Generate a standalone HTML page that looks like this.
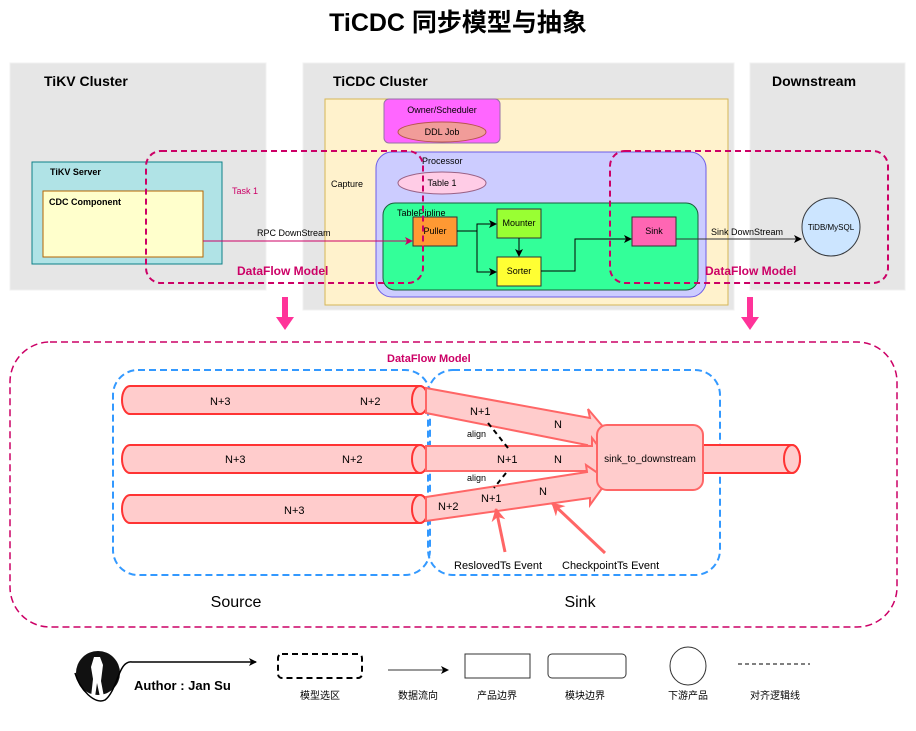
<!DOCTYPE html>
<html><head><meta charset="utf-8"><style>
html,body{margin:0;padding:0;background:#fff;}
svg{display:block;font-family:"Liberation Sans","Noto Sans CJK SC",sans-serif;}
</style></head><body>
<svg width="916" height="731" viewBox="0 0 916 731" xmlns="http://www.w3.org/2000/svg">
<defs>
<marker id="ab" markerWidth="8" markerHeight="8" refX="7" refY="4" orient="auto" markerUnits="userSpaceOnUse"><path d="M0,0 L8,4 L0,8 L2,4z" fill="#000"/></marker>
<marker id="am" markerWidth="8" markerHeight="8" refX="7" refY="4" orient="auto" markerUnits="userSpaceOnUse"><path d="M0,0 L8,4 L0,8 L2,4z" fill="#cc0066"/></marker>
<marker id="ar" markerWidth="14" markerHeight="14" refX="12" refY="7" orient="auto" markerUnits="userSpaceOnUse"><path d="M0,0 L13,7 L0,14 L4,7z" fill="#ff6666"/></marker>
</defs>
<text x="458" y="31" text-anchor="middle" font-size="25" font-weight="bold">TiCDC 同步模型与抽象</text>

<rect x="10" y="63" width="256" height="227" fill="#e6e6e6" stroke="#f0f0f0"/>
<rect x="303" y="63" width="431" height="247" fill="#e6e6e6" stroke="#f0f0f0"/>
<rect x="750" y="63" width="155" height="227" fill="#e6e6e6" stroke="#f0f0f0"/>
<text x="44" y="86" font-size="14" font-weight="bold">TiKV Cluster</text>
<text x="333" y="86" font-size="14" font-weight="bold">TiCDC Cluster</text>
<text x="772" y="86" font-size="14" font-weight="bold">Downstream</text>

<rect x="325" y="99" width="403" height="206" fill="#fff2cc" stroke="#d6b656"/>
<text x="331" y="187" font-size="9">Capture</text>
<rect x="384" y="99" width="116" height="44" rx="5" fill="#ff66ff" stroke="#9673a6"/>
<text x="442" y="113" font-size="9" text-anchor="middle">Owner/Scheduler</text>
<ellipse cx="442" cy="132" rx="44" ry="10" fill="#f19c99" stroke="#b85450"/>
<text x="442" y="135" font-size="9" text-anchor="middle">DDL Job</text>

<rect x="376" y="152" width="330" height="145" rx="16" fill="#ccccff" stroke="#6c5ce7"/>
<text x="422" y="164" font-size="9">Processor</text>
<ellipse cx="442" cy="183" rx="44" ry="11" fill="#ffcce6" stroke="#996185"/>
<text x="442" y="186" font-size="9" text-anchor="middle">Table 1</text>

<rect x="383" y="203" width="315" height="87" rx="12" fill="#33ff99" stroke="#1a5c3a"/>
<text x="397" y="216" font-size="9">TablePipline</text>
<rect x="413" y="217" width="44" height="29" fill="#ff9933" stroke="#333"/>
<text x="435" y="234" font-size="9" text-anchor="middle">Puller</text>
<rect x="497" y="209" width="44" height="29" fill="#99ff33" stroke="#333"/>
<text x="519" y="226" font-size="9" text-anchor="middle">Mounter</text>
<rect x="497" y="257" width="44" height="29" fill="#ffff33" stroke="#333"/>
<text x="519" y="274" font-size="9" text-anchor="middle">Sorter</text>
<rect x="632" y="217" width="44" height="29" fill="#ff66b3" stroke="#333"/>
<text x="654" y="234" font-size="9" text-anchor="middle">Sink</text>
<path d="M457,231 H477 V224 H496" fill="none" stroke="#000" marker-end="url(#ab)"/>
<path d="M477,231 V272 H496" fill="none" stroke="#000" marker-end="url(#ab)"/>
<path d="M519,238 V256" fill="none" stroke="#000" marker-end="url(#ab)"/>
<path d="M541,271 H575 V239 H631" fill="none" stroke="#000" marker-end="url(#ab)"/>

<rect x="32" y="162" width="190" height="102" fill="#b0e3e6" stroke="#0e8088"/>
<text x="50" y="175" font-size="9" font-weight="bold">TiKV Server</text>
<rect x="43" y="191" width="160" height="66" fill="#ffffcc" stroke="#b46504"/>
<text x="49" y="205" font-size="9" font-weight="bold">CDC Component</text>
<line x1="203" y1="241" x2="412" y2="241" stroke="#cc0066" marker-end="url(#am)"/>
<text x="257" y="236" font-size="9">RPC DownStream</text>
<line x1="676" y1="239" x2="801" y2="239" stroke="#333" marker-end="url(#ab)"/>
<text x="711" y="235" font-size="9">Sink DownStream</text>
<circle cx="831" cy="227" r="29" fill="#cce5ff" stroke="#36393d"/>
<text x="831" y="230" font-size="8" text-anchor="middle">TiDB/MySQL</text>

<rect x="146" y="151" width="277" height="132" rx="15" fill="none" stroke="#cc0066" stroke-width="2" stroke-dasharray="6,4"/>
<rect x="610" y="151" width="278" height="132" rx="15" fill="none" stroke="#cc0066" stroke-width="2" stroke-dasharray="6,4"/>
<text x="232" y="194" font-size="9" fill="#cc0066">Task 1</text>
<text x="237" y="275" font-size="12" font-weight="bold" fill="#cc0066">DataFlow Model</text>
<text x="705" y="275" font-size="12" font-weight="bold" fill="#cc0066">DataFlow Model</text>

<path d="M282,297 h6 v20 h6 l-9,13 l-9,-13 h6z" fill="#ff3399"/>
<path d="M747,297 h6 v20 h6 l-9,13 l-9,-13 h6z" fill="#ff3399"/>

<rect x="10" y="342" width="887" height="285" rx="40" fill="none" stroke="#cc0066" stroke-width="1.5" stroke-dasharray="7,4"/>
<text x="387" y="362" font-size="11" font-weight="bold" fill="#cc0066">DataFlow Model</text>
<rect x="113" y="370" width="317" height="205" rx="25" fill="none" stroke="#3399ff" stroke-width="2" stroke-dasharray="7,4"/>
<rect x="428" y="370" width="292" height="205" rx="25" fill="none" stroke="#3399ff" stroke-width="2" stroke-dasharray="7,4"/>

<g fill="#ffcccc" stroke="#ff3333" stroke-width="2">
<path d="M130,386 H420 A8,14 0 0 1 420,414 H130 A8,14 0 0 1 130,386z"/>
<ellipse cx="420" cy="400" rx="8" ry="14"/>
<path d="M130,445 H420 A8,14 0 0 1 420,473 H130 A8,14 0 0 1 130,445z"/>
<ellipse cx="420" cy="459" rx="8" ry="14"/>
<path d="M130,495 H420 A8,14 0 0 1 420,523 H130 A8,14 0 0 1 130,495z"/>
<ellipse cx="420" cy="509" rx="8" ry="14"/>
<path d="M703,445 H792 A8,14 0 0 1 792,473 H703z"/>
<ellipse cx="792" cy="459" rx="8" ry="14"/>
</g>
<g fill="#ffcccc" stroke="#ff6666" stroke-width="2">
<polygon points="426,388 590,418 588,409 610,435 585,452 587,445 426,413"/>
<polygon points="426,446 592,446 592,438 608,459 592,480 592,471 426,471"/>
<polygon points="426,497 587,472 586,465 608,480 590,505 590,498 426,521"/>
<rect x="597" y="425" width="106" height="65" rx="10"/>
</g>
<text x="650" y="462" font-size="10" text-anchor="middle">sink_to_downstream</text>
<g stroke="#000" stroke-width="2" stroke-dasharray="5,4"><line x1="488" y1="423" x2="508" y2="448"/><line x1="506" y1="473" x2="494" y2="488"/></g>
<g font-size="11">
<text x="210" y="405">N+3</text><text x="360" y="405">N+2</text>
<text x="225" y="463">N+3</text><text x="342" y="463">N+2</text>
<text x="284" y="514">N+3</text>
<text x="470" y="415">N+1</text><text x="554" y="428">N</text>
<text x="497" y="463">N+1</text><text x="554" y="463">N</text>
<text x="481" y="502">N+1</text><text x="438" y="510">N+2</text><text x="539" y="495">N</text>
</g>
<text x="454" y="569" font-size="11">ReslovedTs Event</text>
<text x="562" y="569" font-size="11">CheckpointTs Event</text>
<text x="467" y="437" font-size="9">align</text>
<text x="467" y="481" font-size="9">align</text>
<line x1="505" y1="552" x2="496" y2="509" stroke="#ff6666" stroke-width="3" marker-end="url(#ar)"/>
<line x1="605" y1="553" x2="552" y2="503" stroke="#ff6666" stroke-width="3" marker-end="url(#ar)"/>
<text x="236" y="607" font-size="16" text-anchor="middle">Source</text>
<text x="580" y="607" font-size="16" text-anchor="middle">Sink</text>

<circle cx="98" cy="673" r="22" fill="#111"/>
<path d="M94,657 l6,0 l3,8 l-2,16 l3,16 h-4 l-3,-14 l-2,14 h-4 l2,-18 l-2,-12z" fill="#fff"/>
<path d="M75,673 C80,690 95,705 105,700 C118,690 118,660 132,662 H256" fill="none" stroke="#000" stroke-width="1.5" marker-end="url(#ab)"/>
<text x="134" y="690" font-size="13" font-weight="bold">Author : Jan Su</text>
<rect x="278" y="654" width="84" height="24" rx="4" fill="none" stroke="#000" stroke-width="2" stroke-dasharray="6,4"/>
<line x1="388" y1="670" x2="448" y2="670" stroke="#333" marker-end="url(#ab)"/>
<rect x="465" y="654" width="65" height="24" fill="none" stroke="#333"/>
<rect x="548" y="654" width="78" height="24" rx="4" fill="none" stroke="#333"/>
<ellipse cx="688" cy="666" rx="18" ry="19" fill="none" stroke="#333"/>
<line x1="738" y1="664" x2="810" y2="664" stroke="#000" stroke-dasharray="4,3"/>
<g font-size="10" text-anchor="middle">
<text x="320" y="699">模型选区</text><text x="418" y="699">数据流向</text><text x="497" y="699">产品边界</text>
<text x="585" y="699">模块边界</text><text x="688" y="699">下游产品</text><text x="775" y="699">对齐逻辑线</text>
</g>
</svg>
</body></html>
